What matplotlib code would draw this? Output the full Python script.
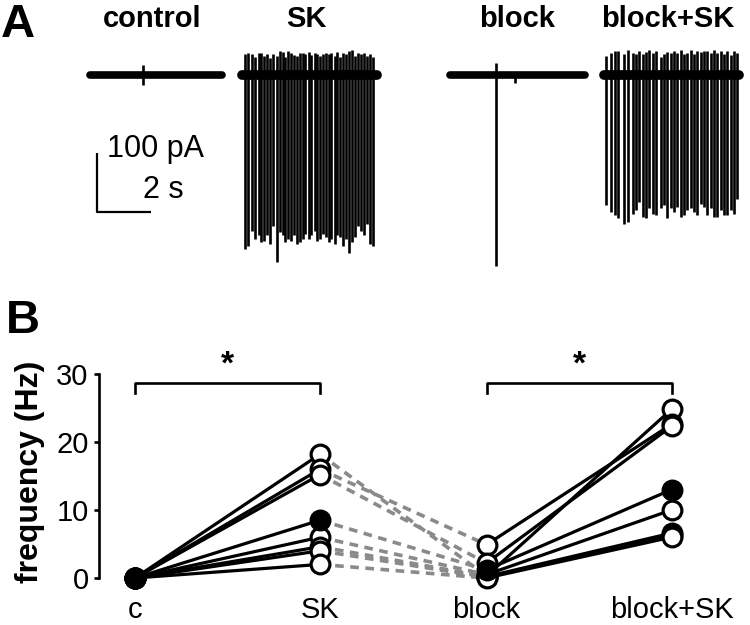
"""Spontaneous firing traces and paired frequency plot (SK / block)."""
import matplotlib
matplotlib.use("Agg")
import matplotlib.pyplot as plt

plt.rcParams["font.family"] = ["Liberation Sans", "DejaVu Sans"]

# ---- panel B: firing frequency per cell (Hz) ----
GROUPS = ["c", "SK", "block", "block+SK"]
FREQ_C = [0, 0, 0, 0, 0, 0, 0, 0]
FREQ_SK = [18.2, 16.0, 15.2, 8.5, 6.0, 4.6, 4.0, 2.0]
FREQ_BLOCK = [0.3, 4.9, 2.2, 1.2, 0.5, 0.2, 0.1, 0.0]
FREQ_BLOCK_SK = [24.8, 22.6, 22.3, 13.0, 10.0, 6.6, 6.3, 6.0]
EXAMPLE_CELL = 3  # filled symbols

# ---- panel A: example traces (times in s, amplitudes in pA) ----
TRACE_TITLES = ["control", "SK", "block", "block+SK"]
TRACE_LENGTH = [4.9, 5.0, 5.0, 5.0]

CONTROL_T = [1.96]
CONTROL_UP = [17]
CONTROL_DOWN = [17]

SK_T = [0.12, 0.22, 0.37, 0.47, 0.62, 0.72, 0.81, 0.91, 1.04, 1.14,
        1.31, 1.41, 1.51, 1.60, 1.70, 1.83, 1.93, 2.03, 2.15, 2.25,
        2.34, 2.47, 2.57, 2.69, 2.79, 2.89, 3.01, 3.11, 3.21, 3.31,
        3.43, 3.53, 3.63, 3.75, 3.85, 3.97, 4.07, 4.17, 4.30, 4.40,
        4.52, 4.62, 4.74, 4.86]
SK_DOWN = [295, 289, 264, 278, 272, 283, 281, 272, 286, 256,
           317, 266, 272, 283, 278, 281, 272, 286, 283, 278,
           269, 278, 272, 264, 281, 278, 269, 275, 283, 278,
           286, 272, 275, 289, 278, 301, 283, 275, 256, 264,
           272, 253, 286, 289]
SK_UP = [36, 38, 35, 30, 37, 38, 33, 36, 29, 35,
         33, 40, 39, 30, 40, 38, 34, 32, 38, 37,
         35, 39, 34, 38, 36, 32, 36, 38, 35, 37,
         33, 39, 30, 38, 36, 40, 42, 32, 38, 36,
         37, 33, 35, 31]

BLOCK_T = [1.70, 2.41]
BLOCK_UP = [20, 4]
BLOCK_DOWN = [324, 14]

BLOCK_SK_T = [0.07, 0.25, 0.41, 0.53, 0.74, 0.90, 1.06, 1.19, 1.31, 1.43,
              1.56, 1.68, 1.80, 1.93, 2.10, 2.22, 2.35, 2.47, 2.59, 2.72,
              2.84, 2.96, 3.09, 3.21, 3.33, 3.46, 3.58, 3.70, 3.83, 3.95,
              4.07, 4.20, 4.32, 4.44, 4.57, 4.69, 4.81, 4.91]
BLOCK_SK_DOWN = [221, 232, 238, 243, 252, 249, 235, 229, 215, 241,
                 243, 226, 235, 238, 226, 221, 243, 226, 232, 224,
                 241, 238, 229, 226, 232, 238, 218, 224, 238, 226,
                 241, 241, 229, 238, 238, 229, 235, 210]
BLOCK_SK_UP = [33, 38, 40, 40, 36, 42, 38, 35, 40, 36,
               39, 42, 37, 40, 30, 36, 39, 37, 41, 38,
               42, 36, 38, 43, 35, 40, 39, 41, 40, 38,
               42, 37, 40, 36, 41, 34, 40, 38]

W, H = 750, 625


def fxy(x, y):
    """Pixel position (from top left) to figure fraction."""
    return x / W, 1 - y / H


def draw_traces(fig):
    """Panel A: current traces with scale bar."""
    ax = fig.add_axes([0, 1 - 280 / H, 1, 280 / H])
    # 27 px per second, 0.59 px per pA, baseline 75 px from top
    ax.set_xlim(0, W / 27)
    ax.set_ylim(-(280 - 75) / 0.59, 75 / 0.59)
    ax.axis("off")

    traces = [
        (CONTROL_T, CONTROL_UP, CONTROL_DOWN, 90, 5.5),
        (SK_T, SK_UP, SK_DOWN, 242, 7.0),
        (BLOCK_T, BLOCK_UP, BLOCK_DOWN, 450, 5.5),
        (BLOCK_SK_T, BLOCK_SK_UP, BLOCK_SK_DOWN, 604, 7.0),
    ]
    for (t, up, down, x0px, lw), length in zip(traces, TRACE_LENGTH):
        x0 = x0px / 27
        ax.plot([x0, x0 + length], [0, 0], color="black", lw=lw,
                solid_capstyle="round")
        ax.vlines([x0 + s for s in t], [-d for d in down], up,
                  color="black", lw=1.9)

    # scale bar: 100 pA / 2 s
    sx = 97 / 27
    sy = -(212 - 75) / 0.59
    ax.plot([sx, sx, sx + 2], [sy + 100, sy, sy], color="black", lw=1.6,
            solid_capstyle="butt")
    fig.text(*fxy(107, 157), "100 pA", fontsize=22, ha="left", va="baseline")
    fig.text(*fxy(143, 198), "2 s", fontsize=22, ha="left", va="baseline")

    for title, cx in zip(TRACE_TITLES, [152, 306, 517, 668]):
        fig.text(*fxy(cx, 27), title, fontsize=21, fontweight="bold",
                 ha="center", va="baseline")
    fig.text(*fxy(1, 37), "A", fontsize=34, fontweight="bold",
             ha="left", va="baseline")


def draw_frequency(fig):
    """Panel B: paired firing frequencies."""
    ax = fig.add_axes([99 / W, 0, 1 - 99 / W, 345 / H])
    xpos = [0, 1, 1.9, 2.9]
    # 185 px per category step, 6.8 px per Hz, 0 Hz at 578 px
    ax.set_xlim((99 - 135) / 185, (W - 135) / 185)
    ax.set_ylim(-(H - 578) / 6.8, (578 - 280) / 6.8)

    series = [FREQ_C, FREQ_SK, FREQ_BLOCK, FREQ_BLOCK_SK]
    for i in range(len(FREQ_SK)):
        ax.plot(xpos[:2], [FREQ_C[i], FREQ_SK[i]], color="black", lw=2.3,
                zorder=2)
        ax.plot(xpos[1:3], [FREQ_SK[i], FREQ_BLOCK[i]], color="#8a8a8a",
                lw=2.6, ls=(0, (2.4, 1.8)), zorder=1)
        ax.plot(xpos[2:], [FREQ_BLOCK[i], FREQ_BLOCK_SK[i]], color="black",
                lw=2.3, zorder=2)
    for x, vals in zip(xpos, series):
        for i, v in enumerate(vals):
            filled = i == EXAMPLE_CELL
            ax.plot(x, v, "o", ms=13.5, mew=2.3, mec="black",
                    mfc="black" if filled else "white",
                    zorder=4 if filled else 3)

    # significance brackets
    for a, b in [(0, 1), (2, 3)]:
        ax.plot([xpos[a], xpos[a], xpos[b], xpos[b]], [27.2, 28.7, 28.7, 27.2],
                color="black", lw=1.9)
        ax.text((xpos[a] + xpos[b]) / 2, 29.0, "*", fontsize=24,
                fontweight="bold", ha="center", va="bottom")

    for name, x in zip(GROUPS, xpos):
        ax.text(x, (578 - 618) / 6.8, name, fontsize=21, ha="center",
                va="baseline")

    for side in ["top", "right", "bottom"]:
        ax.spines[side].set_visible(False)
    ax.spines["left"].set_bounds(0, 30)
    ax.spines["left"].set_linewidth(1.9)
    ax.set_yticks([0, 10, 20, 30])
    ax.tick_params(axis="y", length=3.5, width=1.9, labelsize=21, pad=4)
    ax.set_xticks([])
    fig.text(*fxy(30, 472), "frequency (Hz)", fontsize=23, fontweight="bold",
             rotation=90, ha="center", va="center")
    fig.text(*fxy(6, 333), "B", fontsize=34, fontweight="bold",
             ha="left", va="baseline")


def main():
    """Build the figure and save it."""
    fig = plt.figure(figsize=(W / 100, H / 100), dpi=100)
    draw_traces(fig)
    draw_frequency(fig)
    fig.savefig("out.png", dpi=100)
    plt.close(fig)


if __name__ == "__main__":
    main()
